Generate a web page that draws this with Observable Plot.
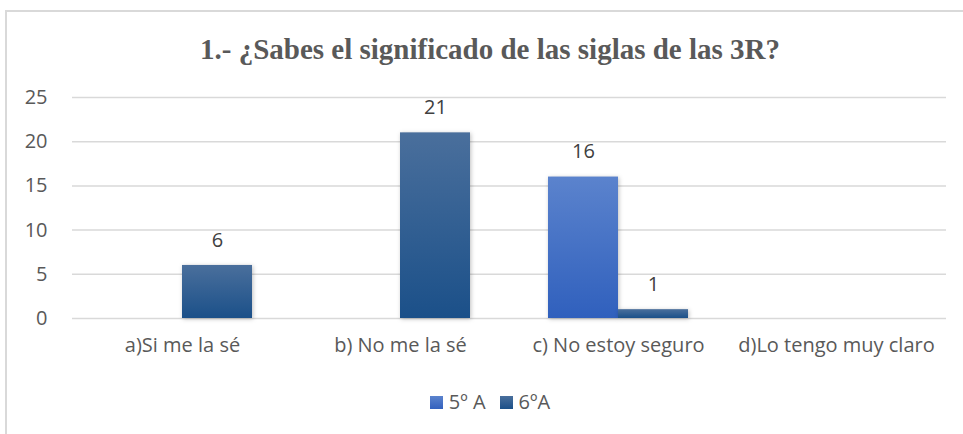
<!DOCTYPE html>
<html><head><meta charset="utf-8">
<script src="https://cdn.jsdelivr.net/npm/d3@7"></script>
<script src="https://cdn.jsdelivr.net/npm/@observablehq/plot@0.6"></script>
<style>
body{margin:0;width:963px;height:434px;overflow:hidden;background:#fff;font-family:"Open Sans",sans-serif;position:relative;}
#frame{position:absolute;left:5px;top:10px;width:1000px;height:500px;border:2px solid #d9d9d9;}
#title{position:absolute;left:0;width:980px;top:32px;text-align:center;font:bold 29px "Liberation Serif",serif;color:#595959;line-height:34px;}
#grid,#chart{position:absolute;left:0;top:75px;}
#grid svg text,#chart svg g[aria-label="fx-axis tick label"] text{font-size:20px;}
#legend{position:absolute;top:388px;left:0;width:980px;text-align:center;font-size:20px;color:#595959;}
#legend span.sw{display:inline-block;width:13px;height:13px;vertical-align:0px;margin-right:6px;}
#legend span.it{margin:0 7px;}
#chart g[aria-label="bar"] rect{filter:drop-shadow(1px 1px 2px rgba(0,0,0,0.25));}
</style>
</head><body>
<div id="frame"></div>
<div id="title"></div>
<div id="grid"></div>
<div id="chart"></div>
<div id="legend"></div>
<script>
const titleText = "1.- ¿Sabes el significado de las siglas de las 3R?";
const categories = ["a)Si me la sé", "b) No me la sé", "c) No estoy seguro", "d)Lo tengo muy claro"];
const series = ["5º A", "6ºA"];
const values5A = [0, 0, 16, 0];
const values6A = [6, 21, 1, 0];
const yTicks = [0, 5, 10, 15, 20, 25];
const seriesFills = ["url(#g5)", "url(#g6)"];
const legendSwatches = ["linear-gradient(#5b83cd,#3361be)", "linear-gradient(#4a6f9c,#1b5089)"];

document.getElementById("title").textContent = titleText;

const data = [];
categories.forEach((c, i) => {
  data.push({category: c, series: series[0], value: values5A[i]});
  data.push({category: c, series: series[1], value: values6A[i]});
});

const common = {
  width: 963, height: 300,
  marginLeft: 72, marginRight: 17, marginTop: 22, marginBottom: 57,
  style: {fontFamily: "'Open Sans', sans-serif", fontSize: "20px", color: "#595959", background: "transparent", overflow: "visible"}
};

// background: gridlines + y axis
const gridSvg = Plot.plot({
  ...common,
  y: {domain: [0, 25], ticks: yTicks, label: null, tickSize: 0, tickPadding: 25},
  marks: [
    Plot.ruleY(yTicks, {stroke: "#d9d9d9", strokeWidth: 1.5})
  ]
});
document.getElementById("grid").appendChild(gridSvg);

// foreground: grouped bars
const svg = Plot.plot({
  ...common,
  fx: {domain: categories, paddingInner: 0.36, paddingOuter: 0.18, label: null, tickSize: 0, tickPadding: 19, axis: "bottom"},
  x: {domain: series, padding: 0, axis: null},
  y: {domain: [0, 25], axis: null},
  color: {domain: series, range: seriesFills},
  marks: [
    Plot.barY(data.filter(d => d.value > 0), {fx: "category", x: "series", y: "value", fill: "series"}),
    Plot.text(data.filter(d => d.value > 0), {fx: "category", x: "series", y: "value", text: d => String(d.value), dy: -25, fill: "#404040", fontSize: 20})
  ]
});

const defs = d3.select(svg).insert("defs", ":first-child");
const g5 = defs.append("linearGradient").attr("id", "g5").attr("x1", 0).attr("y1", 0).attr("x2", 0).attr("y2", 1);
g5.append("stop").attr("offset", "0%").attr("stop-color", "#5b83cd");
g5.append("stop").attr("offset", "100%").attr("stop-color", "#3060bd");
const g6 = defs.append("linearGradient").attr("id", "g6").attr("x1", 0).attr("y1", 0).attr("x2", 0).attr("y2", 1);
g6.append("stop").attr("offset", "0%").attr("stop-color", "#4a6f9c");
g6.append("stop").attr("offset", "100%").attr("stop-color", "#1b5089");

document.getElementById("chart").appendChild(svg);

const legend = document.getElementById("legend");
series.forEach((s, i) => {
  const it = document.createElement("span");
  it.className = "it";
  const sw = document.createElement("span");
  sw.className = "sw";
  sw.style.background = legendSwatches[i];
  it.appendChild(sw);
  it.appendChild(document.createTextNode(s));
  legend.appendChild(it);
});
</script>
</body></html>
